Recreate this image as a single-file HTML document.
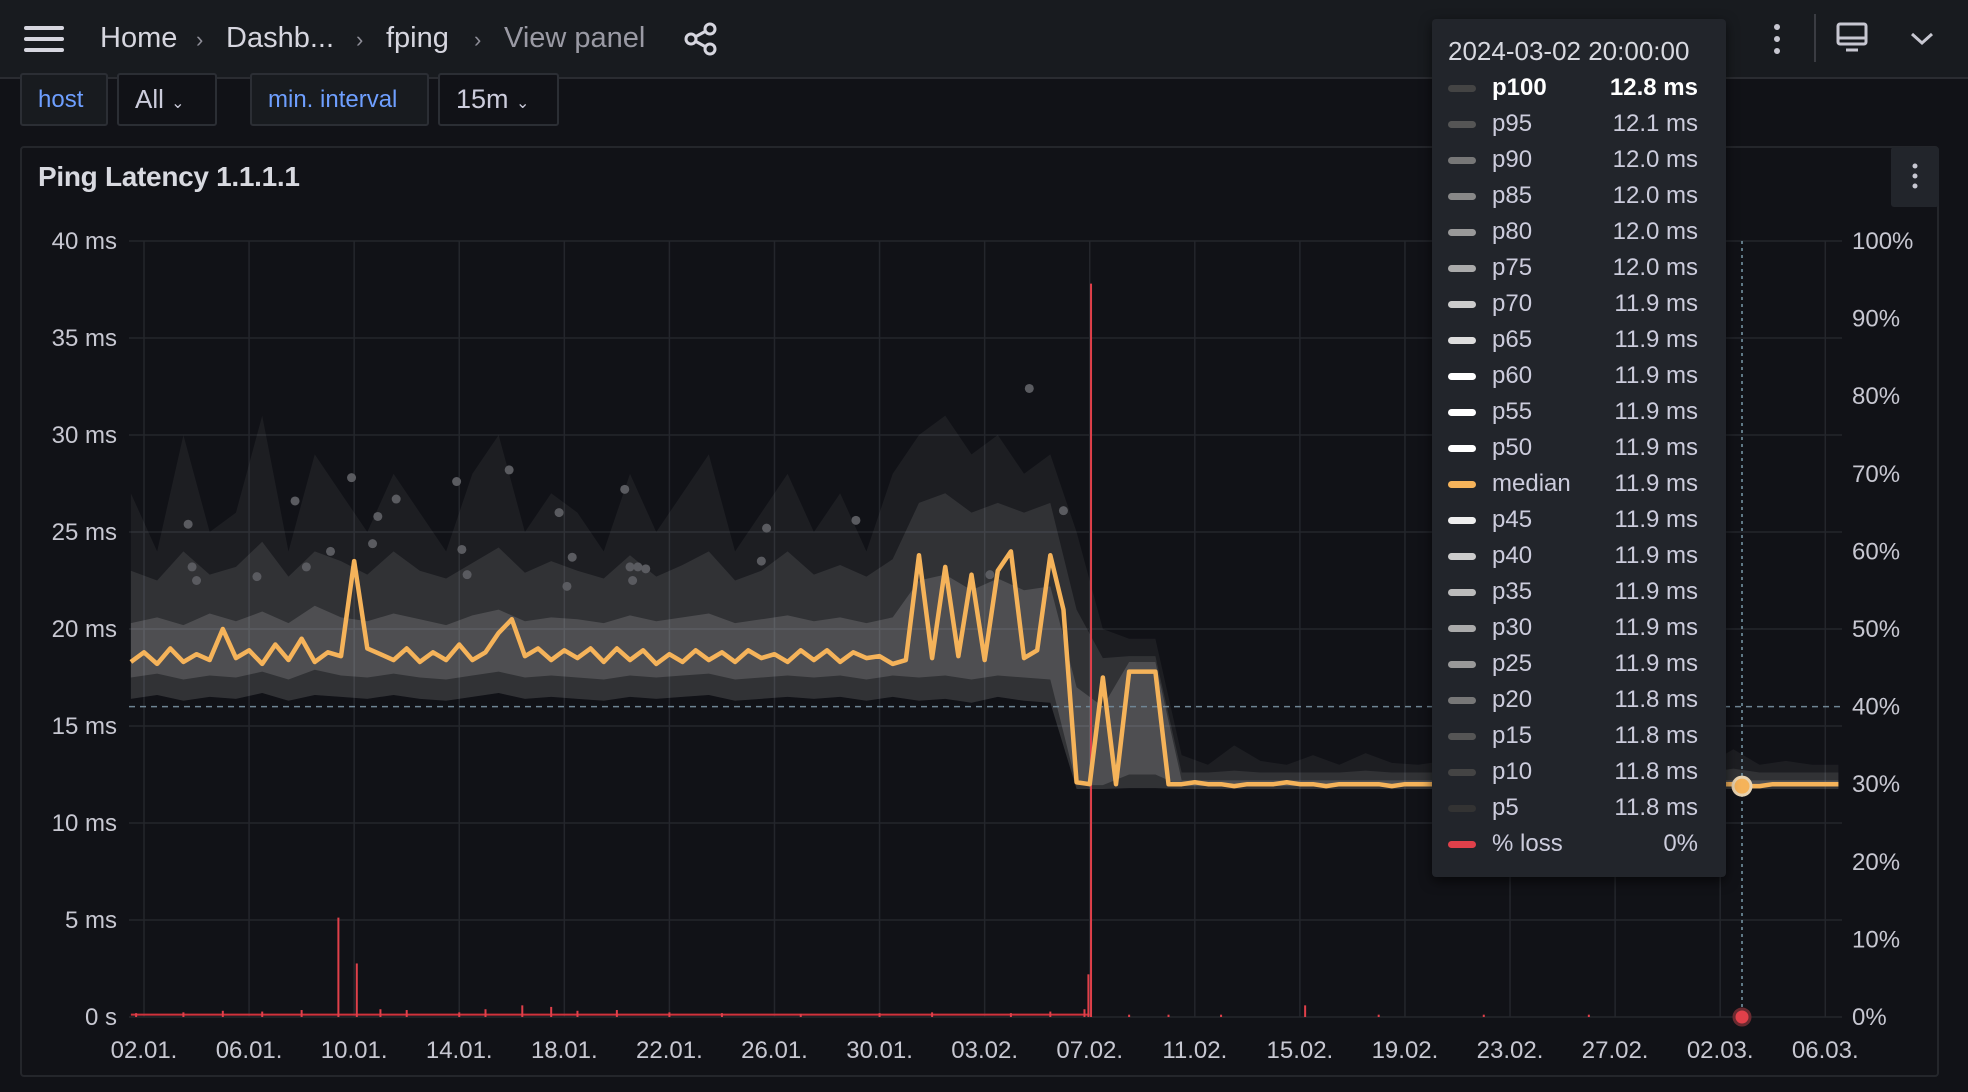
<!DOCTYPE html>
<html><head><meta charset="utf-8">
<style>
*{box-sizing:border-box;margin:0;padding:0}
body{width:1968px;height:1092px;background:#111217;font-family:"Liberation Sans",sans-serif;color:#ccccdc;position:relative;overflow:hidden}
.hdr{position:absolute;left:0;top:0;width:1968px;height:79px;background:#181b1f;border-bottom:2px solid #2a2c31}
.crumb{position:absolute;top:22px;font-size:29px;color:#d6d6df}
.var{position:absolute;top:73px;height:53px;border:2px solid #2b2e34;border-radius:3px;font-size:24px;line-height:49px;padding:0 16px;background:#111217}
.lbl{color:#6e9fff;background:#181b1f}
.panel{position:absolute;left:20px;top:146px;width:1919px;height:931px;border:2px solid #24262b;border-radius:4px}
.tt{position:absolute;left:1432px;top:19px;width:294px;height:858px;background:#22252b;border-radius:4px;box-shadow:0 4px 12px rgba(0,0,0,.6);font-size:24px}
.row{position:absolute;left:0;width:294px;height:36px;line-height:36px}
.sw{position:absolute;left:16px;top:15px;width:28px;height:7px;border-radius:4px}
.nm{position:absolute;left:60px;color:#ccccdc}
.vl{position:absolute;right:28px;color:#ccccdc}
</style></head><body>
<div class="hdr">
  <svg style="position:absolute;left:24px;top:26px" width="40" height="26"><rect y="0" width="40" height="4" rx="2" fill="#d6d6df"/><rect y="11" width="40" height="4" rx="2" fill="#d6d6df"/><rect y="22" width="40" height="4" rx="2" fill="#d6d6df"/></svg>
  <span class="crumb" style="left:100px">Home</span>
  <span class="crumb" style="left:196px;color:#8e8e98;font-size:22px;top:27px">›</span>
  <span class="crumb" style="left:226px">Dashb...</span>
  <span class="crumb" style="left:356px;color:#8e8e98;font-size:22px;top:27px">›</span>
  <span class="crumb" style="left:386px">fping</span>
  <span class="crumb" style="left:474px;color:#8e8e98;font-size:22px;top:27px">›</span>
  <span class="crumb" style="left:504px;color:#9a9aa4">View panel</span>
  <svg style="position:absolute;left:684px;top:22px" width="34" height="34" fill="none" stroke="#d6d6df" stroke-width="3"><circle cx="7" cy="17" r="5"/><circle cx="26" cy="7" r="5"/><circle cx="26" cy="27" r="5"/><path d="M11 15 L22 9 M11 19 L22 25"/></svg>
  <svg style="position:absolute;left:1770px;top:22px" width="14" height="34" fill="#c7c7d1"><circle cx="7" cy="5" r="3"/><circle cx="7" cy="17" r="3"/><circle cx="7" cy="29" r="3"/></svg>
  <div style="position:absolute;left:1814px;top:14px;width:2px;height:48px;background:#3a3c42"></div>
  <svg style="position:absolute;left:1836px;top:22px" width="32" height="32" fill="none" stroke="#c7c7d1" stroke-width="3"><rect x="2" y="2" width="28" height="20" rx="2"/><path d="M2 16 H30 M10 28 H22"/></svg>
  <svg style="position:absolute;left:1910px;top:32px" width="24" height="14" fill="none" stroke="#c7c7d1" stroke-width="3"><path d="M2 2 L12 11 L22 2"/></svg>
</div>
<div class="var lbl" style="left:20px;width:88px">host</div>
<div class="var" style="left:117px;width:100px;font-size:26px">All <span style="font-size:16px">⌄</span></div>
<div class="var lbl" style="left:250px;width:179px">min. interval</div>
<div class="var" style="left:438px;width:121px;font-size:27px">15m <span style="font-size:16px">⌄</span></div>
<div class="panel"></div>
<div style="position:absolute;left:38px;top:161px;font-size:28px;color:#d8d9e0;font-weight:bold;letter-spacing:-0.3px">Ping Latency 1.1.1.1</div>
<div style="position:absolute;left:1891px;top:147px;width:48px;height:60px;background:#22252b;border-radius:3px">
<svg width="48" height="60" fill="#c7c7d1"><circle cx="24" cy="19" r="2.5"/><circle cx="24" cy="29" r="2.5"/><circle cx="24" cy="39" r="2.5"/></svg></div>
<svg id="chart" style="position:absolute;left:0;top:0" width="1968" height="1092"></svg>

<div class="tt" id="tt">
  <div style="position:absolute;left:16px;top:17px;font-size:26px;color:#d8d9e0">2024-03-02 20:00:00</div>
</div>

<script>
const median=[18.3,18.8,18.2,19.0,18.3,18.7,18.4,20.0,18.5,18.9,18.2,19.2,18.4,19.5,18.3,18.8,18.6,23.5,19.0,18.7,18.4,19.0,18.3,18.8,18.4,19.2,18.4,18.8,19.8,20.5,18.6,19.0,18.4,18.9,18.5,19.0,18.3,19.0,18.4,18.9,18.2,18.7,18.3,18.9,18.4,18.8,18.3,18.9,18.5,18.7,18.3,18.9,18.4,18.9,18.3,18.8,18.5,18.6,18.2,
18.4,23.8,18.5,23.2,18.6,22.8,18.4,23.0,24.0,18.5,18.9,23.8,21.0,12.1,
12.0,17.5,12.0,17.8,17.8,17.8,
12.0,12.0,12.1,12.0,12.0,11.9,12.0,12.0,12.0,12.1,12.0,12.0,11.9,12.0,12.0,12.0,12.0,11.9,12.0,12.0,12.0,12.0,12.0,12.0,12.0,12.0,12.0,12.0,11.9,12.0,12.0,12.0,12.0,12.0,12.0,12.0,12.0,12.0,11.9,12.0,12.0,12.0,12.0,12.0,11.9,11.9,12.0,12.0,12.0,12.0,12.0,12.0];
const p100=[27,24,30,25,26,31,24,29,27,25,28,26,24,28,30,25,27,26,24,28,25,27,29,24,26,28,25,27,24,28,30,31,29,30,28,29,25,20,19.5,19.5,13.5,13,14,13.2,13,13.5,13,13.6,13.1,13,13.2,13,13.4,13,13.1,13,13.2,13,13.1,13,13,13.8,13,13.2,13,13];
const p95=[23,22.5,24,22.8,23.2,24.5,22.7,24,23.5,22.8,24,23,22.6,23.4,24.2,22.9,23.5,23,22.6,23.8,22.7,23.3,24,22.5,23,24,22.8,23.3,22.7,23.6,26.5,27,26,26.5,26,26.5,21,18.5,18.6,18.6,12.6,12.6,12.7,12.6,12.6,12.6,12.6,12.7,12.6,12.6,12.6,12.6,12.6,12.6,12.6,12.6,12.6,12.6,12.6,12.6,12.6,12.8,12.6,12.6,12.6,12.6];
const p75=[20.3,20.6,20.2,20.8,20.4,20.9,20.3,21.2,20.6,20.4,20.8,20.5,20.2,20.7,21,20.4,20.6,20.5,20.3,20.7,20.4,20.6,20.8,20.3,20.5,20.7,20.4,20.6,20.3,20.6,22.5,22.8,22,22.6,22,22.2,17,16,18.3,18.3,12.2,12.2,12.2,12.2,12.2,12.2,12.2,12.2,12.2,12.2,12.2,12.2,12.2,12.2,12.2,12.2,12.2,12.2,12.2,12.2,12.2,12.2,12.2,12.2,12.2,12.2];
const p25=[17.5,17.7,17.4,17.6,17.5,17.8,17.4,17.9,17.6,17.5,17.7,17.5,17.4,17.6,17.8,17.5,17.6,17.5,17.4,17.6,17.5,17.6,17.7,17.4,17.5,17.6,17.5,17.6,17.4,17.6,17.5,17.6,17.4,17.6,17.5,17.4,11.95,11.95,12.5,12.5,11.9,11.9,11.9,11.9,11.9,11.9,11.9,11.9,11.9,11.9,11.9,11.9,11.9,11.9,11.9,11.9,11.9,11.9,11.9,11.9,11.9,11.9,11.9,11.9,11.9,11.9];
const p5=[16.4,16.6,16.3,16.5,16.4,16.7,16.3,16.6,16.5,16.4,16.6,16.4,16.3,16.5,16.7,16.4,16.5,16.4,16.3,16.5,16.4,16.5,16.6,16.3,16.4,16.5,16.4,16.5,16.3,16.5,16.3,16.4,16.2,16.5,16.3,16.2,11.75,11.75,11.8,11.8,11.75,11.75,11.75,11.75,11.75,11.75,11.75,11.75,11.75,11.75,11.75,11.75,11.75,11.75,11.75,11.75,11.75,11.75,11.75,11.75,11.75,11.75,11.75,11.75,11.75,11.75];
const outlierDays=[1.68,1.83,2.0,4.3,5.75,6.18,7.1,7.9,8.7,8.9,9.6,11.9,12.1,12.3,13.9,15.8,16.3,16.1,18.3,18.5,18.8,19.1,18.6,23.7,23.5,27.1,32.2,33.7,35.0];
const outlierVals=[25.4,23.2,22.5,22.7,26.6,23.2,24.0,27.8,24.4,25.8,26.7,27.6,24.1,22.8,28.2,26.0,23.7,22.2,27.2,23.2,23.2,23.1,22.5,25.2,23.5,25.6,22.8,32.4,26.1];
const lossDays=[-0.3,1.5,3,4.5,6,7.4,8.1,9,10,12,13,14.4,15.5,16.5,18,20,22,25,28,30,33,34.5,35.8,35.95,36.05,37.5,39,41,44.2,47,51,55];
const lossVals=[0.5,0.6,0.8,0.7,0.9,12.8,6.9,1,0.9,0.6,1,1.5,1.3,0.8,0.9,0.6,0.5,0.4,0.5,0.6,0.5,0.7,1,5.5,94.5,0.3,0.3,0.3,1.5,0.3,0.3,0.3];
const yTicks=[0,5,10,15,20,25,30,35,40];
const pctTicks=[0,10,20,30,40,50,60,70,80,90,100];
const xTickLabels=["02.01.","06.01.","10.01.","14.01.","18.01.","22.01.","26.01.","30.01.","03.02.","07.02.","11.02.","15.02.","19.02.","23.02.","27.02.","02.03.","06.03."];
const tipNames=["p100","p95","p90","p85","p80","p75","p70","p65","p60","p55","p50","median","p45","p40","p35","p30","p25","p20","p15","p10","p5","% loss"];
const tipVals=["12.8 ms","12.1 ms","12.0 ms","12.0 ms","12.0 ms","12.0 ms","11.9 ms","11.9 ms","11.9 ms","11.9 ms","11.9 ms","11.9 ms","11.9 ms","11.9 ms","11.9 ms","11.9 ms","11.9 ms","11.8 ms","11.8 ms","11.8 ms","11.8 ms","0%"];
const tipColors=["#444","#555","#777","#888","#999","#aaa","#ccc","#ddd","#fff","#fff","#fff","#f5b35a","#eee","#ccc","#bbb","#aaa","#999","#777","#555","#444","#333","#e0404a"];
const hoverDay=60.83;

const NS="http://www.w3.org/2000/svg";
const svg=document.getElementById('chart');
const X0=144,PXD=26.27,Y0=1017,PXMS=19.4,PXP=7.76,L=129,R=1842,T=241;
const x=d=>X0+d*PXD, y=v=>Y0-v*PXMS, yp=p=>Y0-p*PXP;
function el(t,a,parent){const e=document.createElementNS(NS,t);for(const k in a)e.setAttribute(k,a[k]);(parent||svg).appendChild(e);return e;}
yTicks.forEach(v=>{const g=el('line',{x1:L,x2:R,y1:y(v),y2:y(v),stroke:'#24262c','stroke-width':1.5});


const t=el('text',{x:117,y:y(v)+8,'text-anchor':'end','font-size':24,fill:'#c7c7d1','font-family':'Liberation Sans'});t.textContent=v+(v===0?' s':' ms');

});
xTickLabels.forEach((s,i)=>{const d=i*4;const g=el('line',{x1:x(d),x2:x(d),y1:T,y2:Y0,stroke:'#24262c','stroke-width':1.5});


const t=el('text',{x:x(d),y:1058,'text-anchor':'middle','font-size':24,fill:'#c7c7d1','font-family':'Liberation Sans'});t.textContent=s;

});
pctTicks.forEach(p=>{const t=el('text',{x:1852,y:yp(p)+8,'font-size':24,fill:'#c7c7d1','font-family':'Liberation Sans'});t.textContent=p+'%';

});
const bd=i=>-0.5+i;
function band(up,lo,fill,name){let d='M';up.forEach((v,i)=>d+=x(bd(i))+','+y(v)+' L');for(let i=lo.length-1;i>=0;i--)d+=x(bd(i))+','+y(lo[i])+(i?' L':' Z');
const p=el('path',{d:d,fill:fill});

}
band(p100,p5,'rgba(255,255,255,0.05)','band-p5-p100');
band(p95,p5,'rgba(255,255,255,0.09)','band-p5-p95');
band(p75,p25,'rgba(255,255,255,0.14)','band-p25-p75');
outlierDays.forEach((d,i)=>{const c=el('circle',{cx:x(d),cy:y(outlierVals[i]),r:4.5,fill:'#5a5b60'});

});
const th=el('line',{x1:L,x2:R,y1:yp(40),y2:yp(40),stroke:'#6f8594','stroke-width':1.5,'stroke-dasharray':'6 5'});


const lb=el('line',{x1:x(-0.5),x2:x(36),y1:yp(0.3),y2:yp(0.3),stroke:'#d0323c','stroke-width':2});


lossDays.forEach((d,i)=>{const l=el('line',{x1:x(d),x2:x(d),y1:Y0,y2:yp(lossVals[i]),stroke:'#e0404a','stroke-width':2});

});
let md='';median.forEach((v,i)=>md+=(i?'L':'M')+x(-0.5+i*0.5)+','+y(v)+' ');
const ml=el('path',{d:md,fill:'none',stroke:'#f5b35a','stroke-width':4.5,'stroke-linejoin':'round'});


const ch=el('line',{x1:x(hoverDay),x2:x(hoverDay),y1:T,y2:Y0,stroke:'#7a9aaa','stroke-width':1.5,'stroke-dasharray':'3 4'});


const hp=el('circle',{cx:x(hoverDay),cy:y(11.9),r:9,fill:'#f5b35a',stroke:'#e8d2b0','stroke-width':3});


const hl=el('circle',{cx:x(hoverDay),cy:yp(0),r:8,fill:'#e0404a',stroke:'#6a2a30','stroke-width':3});


const tt=document.getElementById('tt');
tipNames.forEach((n,i)=>{const r=document.createElement('div');r.className='row';r.style.top=(51+i*36)+'px';


const b=i===0?'font-weight:bold;color:#fff;':'';
r.innerHTML='<span class="sw" style="background:'+tipColors[i]+'"></span><span class="nm" style="'+b+'">'+n+'</span><span class="vl" style="'+b+'">'+tipVals[i]+'</span>';
tt.appendChild(r);});
</script>
</body></html>
